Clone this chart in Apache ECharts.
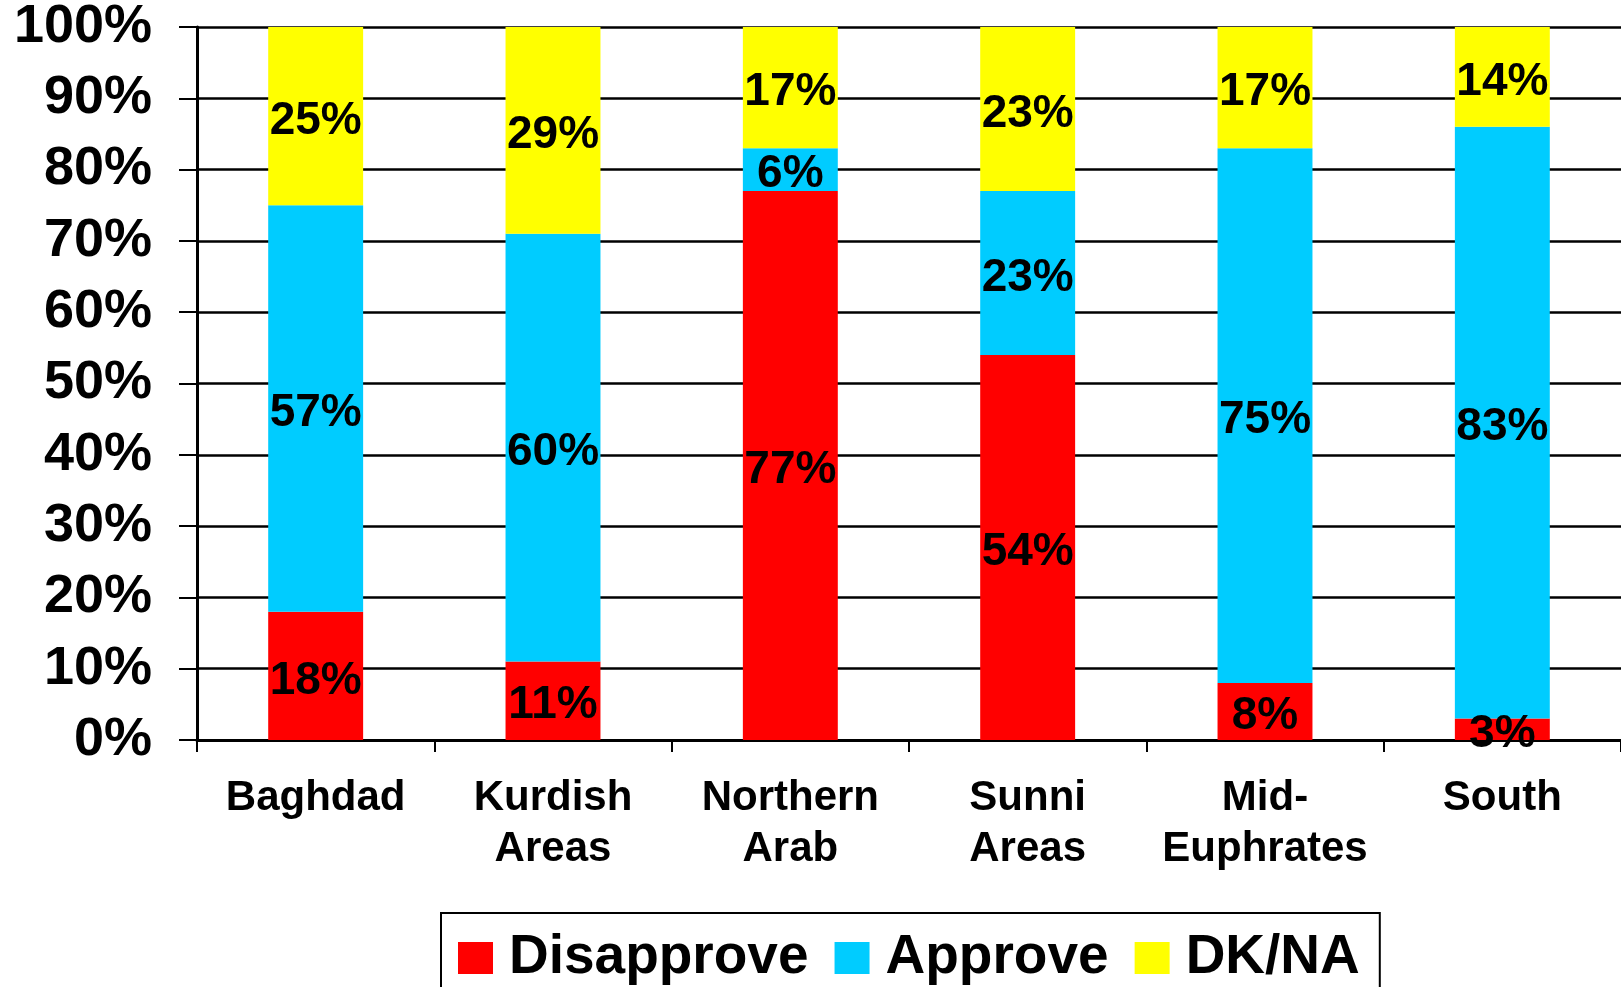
<!DOCTYPE html>
<html>
<head>
<meta charset="utf-8">
<script src="https://cdn.jsdelivr.net/npm/echarts@6/dist/echarts.min.js"></script>
<style>
  html, body { margin: 0; padding: 0; background: #fff; }
  #chart { width: 1621px; height: 987px; }
</style>
</head>
<body>
<div id="chart"></div>
<script>
const categories = ['Baghdad', 'Kurdish\nAreas', 'Northern\nArab', 'Sunni\nAreas', 'Mid-\nEuphrates', 'South']
const disapprove = [18, 11, 77, 54, 8, 3]
const approve = [57, 60, 6, 23, 75, 83]
const dkna = [25, 29, 17, 23, 17, 14]

const FONT = '"Liberation Sans", Arial, Helvetica, sans-serif'

const labelStyle = {
  show: true,
  position: 'inside',
  offset: [0, 5],
  formatter: '{c}%',
  color: '#000',
  fontFamily: FONT,
  fontWeight: 'bold',
  fontSize: 46
}

function bar(name, data, color) {
  return {
    name,
    type: 'bar',
    stack: 'total',
    barWidth: '40%',
    data,
    itemStyle: { color },
    label: labelStyle
  }
}

const chart = echarts.init(document.getElementById('chart'))
chart.setOption({
  animation: false,
  grid: { left: 197, top: 26, width: 1428, height: 714 },
  legend: {
    left: 441,
    top: 913,
    padding: [16, 20, 16, 17],
    borderColor: '#000',
    borderWidth: 2,
    itemWidth: 35,
    itemHeight: 32,
    itemGap: 26,
    icon: 'rect',
    textStyle: {
      fontFamily: FONT,
      fontWeight: 'bold',
      fontSize: 55,
      lineHeight: 58,
      color: '#000',
      padding: [0, 0, 0, 11]
    },
    data: ['Disapprove', 'Approve', 'DK/NA']
  },
  xAxis: {
    type: 'category',
    data: categories,
    axisLine: { lineStyle: { color: '#000', width: 3 } },
    axisTick: { show: true, length: 12, lineStyle: { color: '#000', width: 2 } },
    axisLabel: {
      margin: 33,
      color: '#000',
      fontFamily: FONT,
      fontWeight: 'bold',
      fontSize: 42,
      lineHeight: 51,
      interval: 0
    }
  },
  yAxis: {
    type: 'value',
    min: 0,
    max: 100,
    interval: 10,
    axisLine: { show: true, lineStyle: { color: '#000', width: 3 } },
    axisTick: { show: true, length: 18, lineStyle: { color: '#000', width: 2 } },
    splitLine: { show: true, lineStyle: { color: '#000', width: 2.5 } },
    axisLabel: {
      margin: 45,
      formatter: '{value}%',
      color: '#000',
      fontFamily: FONT,
      fontWeight: 'bold',
      fontSize: 54
    }
  },
  series: [
    bar('Disapprove', disapprove, '#ff0000'),
    bar('Approve', approve, '#00ccff'),
    bar('DK/NA', dkna, '#ffff00')
  ]
})
</script>
</body>
</html>
